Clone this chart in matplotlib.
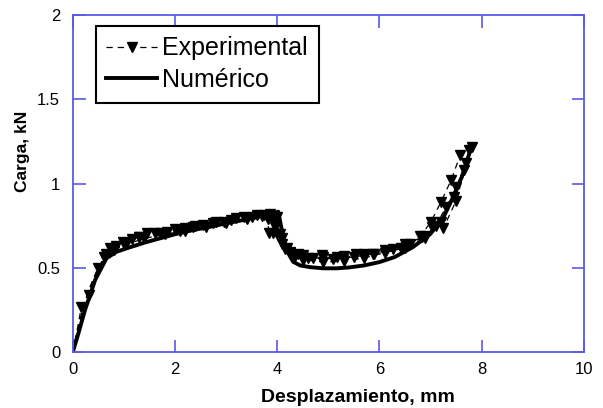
import numpy as np
import matplotlib
matplotlib.use('Agg')
import matplotlib.pyplot as plt

plt.rcParams['font.family'] = ['Liberation Sans', 'DejaVu Sans']

exp1_x = [0, 0.1, 0.2, 0.3, 0.45, 0.62, 0.78, 1.0, 1.3, 1.6, 2.0, 2.4, 2.8, 3.2, 3.6, 3.85,
          3.95, 4.1, 4.25, 4.5, 4.9, 5.3, 5.7, 6.1, 6.5, 6.8, 7.0, 7.2, 7.4, 7.58]
exp1_y = [0, 0.13, 0.26, 0.36, 0.47, 0.567, 0.615, 0.65, 0.685, 0.705, 0.73, 0.75, 0.775, 0.795, 0.815, 0.82,
          0.74, 0.64, 0.595, 0.575, 0.565, 0.57, 0.585, 0.605, 0.64, 0.69, 0.77, 0.89, 1.02, 1.17]

exp2_x = [0, 0.08, 0.17, 0.31, 0.5, 0.66, 0.85, 1.16, 1.45, 1.84, 2.2, 2.55, 2.95, 3.35, 3.75, 3.9,
          4.0, 4.15, 4.35, 4.6, 4.87, 5.16, 5.55, 5.88, 6.27, 6.6, 6.9, 7.1, 7.3, 7.5, 7.7]
exp2_y = [0, 0.12, 0.27, 0.34, 0.5, 0.58, 0.63, 0.67, 0.706, 0.715, 0.735, 0.755, 0.775, 0.8, 0.815, 0.8,
          0.7, 0.61, 0.57, 0.56, 0.575, 0.567, 0.585, 0.58, 0.61, 0.645, 0.69, 0.75, 0.86, 0.98, 1.12]

exp3_x = [0, 0.12, 0.25, 0.4, 0.55, 0.73, 0.99, 1.3, 1.7, 2.1, 2.36, 2.75, 3.1, 3.5, 3.7, 3.82,
          3.83, 3.92, 3.94, 4.05, 4.2, 4.4, 4.7, 5.1, 5.5, 5.9, 6.43, 6.83, 7.02, 7.25, 7.5, 7.8]
exp3_y = [0, 0.16, 0.3, 0.42, 0.52, 0.617, 0.656, 0.685, 0.705, 0.72, 0.74, 0.765, 0.785, 0.805, 0.81, 0.79,
          0.71, 0.71, 0.77, 0.7, 0.62, 0.58, 0.56, 0.555, 0.565, 0.585, 0.617, 0.686, 0.745, 0.735, 0.9, 1.22]

exp4_x = [0, 0.15, 0.28, 0.45, 0.6, 0.8, 1.05, 1.4, 1.8, 2.2, 2.6, 3.0, 3.4, 3.8, 4.0,
          4.1, 4.25, 4.5, 4.9, 5.3, 5.7, 6.1, 6.5, 6.9, 7.2, 7.45, 7.65, 7.76]
exp4_y = [0, 0.2, 0.33, 0.46, 0.55, 0.605, 0.64, 0.675, 0.7, 0.72, 0.745, 0.765, 0.79, 0.81, 0.8,
          0.68, 0.59, 0.55, 0.535, 0.54, 0.56, 0.59, 0.62, 0.68, 0.77, 0.92, 1.08, 1.2]

#%% modelo numérico
num_x = [0, 0.1, 0.24, 0.44, 0.66, 0.85, 1.06, 1.4, 1.71, 2.0, 2.36, 2.7, 3.01, 3.35, 3.66, 3.9, 4.02,
         4.09, 4.18, 4.31, 4.45, 4.64, 4.9, 5.16, 5.4, 5.7, 6.0, 6.3, 6.66, 6.99, 7.25, 7.44, 7.61, 7.78]
num_y = [0, 0.1, 0.25, 0.43, 0.557, 0.595, 0.617, 0.65, 0.676, 0.7, 0.725, 0.745, 0.765, 0.785, 0.804, 0.82, 0.834,
         0.725, 0.607, 0.537, 0.515, 0.505, 0.498, 0.498, 0.503, 0.515, 0.535, 0.565, 0.625, 0.7, 0.8, 0.92, 1.04, 1.2]

experimentos = [(exp1_x, exp1_y), (exp2_x, exp2_y), (exp3_x, exp3_y), (exp4_x, exp4_y)]
# en el tramo inicial solo se ven los marcadores de un ensayo
inicio_marcas = [5, 2, 5, 5]

#%% gráfico
azul = '#5a5ae6'
fig = plt.figure(figsize=(6.03, 4.08), dpi=100)
ax = fig.add_axes([72.7 / 603, 1 - 352.3 / 408, 511.3 / 603, 337.3 / 408])

for i, (x, y) in enumerate(experimentos):
    ax.plot(x, y, color='k', lw=0.9, dashes=(5, 4), marker='v', ms=6.5,
            markevery=slice(inicio_marcas[i], None), label='Experimental' if i == 0 else None)
ax.plot(num_x, num_y, color='k', lw=2.8, label='Numérico', solid_joinstyle='round')

ax.set_xlim(0, 10)
ax.set_ylim(0, 2)
ax.set_xticks([0, 2, 4, 6, 8, 10])
ax.set_yticks([0, 0.5, 1, 1.5, 2])
ax.set_yticklabels(['0', '0.5', '1', '1.5', '2'])
for s in ax.spines.values():
    s.set_color(azul)
    s.set_linewidth(1.3)
ax.tick_params(direction='in', length=9, width=1.2, color=azul, labelsize=12,
               top=True, right=True)
ax.tick_params(axis='x', pad=7)
ax.tick_params(axis='y', pad=9)

fig.text(357.5 / 603, 1 - 402 / 408, 'Desplazamiento, mm', ha='center', va='baseline',
         fontsize=14, fontweight='bold')
fig.text(23 / 603, 1 - 151.7 / 408, 'Carga, kN', ha='center', va='center', rotation=90,
         fontsize=12.5, fontweight='bold')

leg = fig.legend(loc='upper left', bbox_to_anchor=(95.7 / 603, 1 - 26 / 408), borderaxespad=0,
                 fontsize=18, fancybox=False, framealpha=1, edgecolor='k',
                 handlelength=2.05, handletextpad=0.2, borderpad=0.42, labelspacing=0.3)
leg.get_frame().set_linewidth(1.5)

fig.savefig('out.png', dpi=100)
